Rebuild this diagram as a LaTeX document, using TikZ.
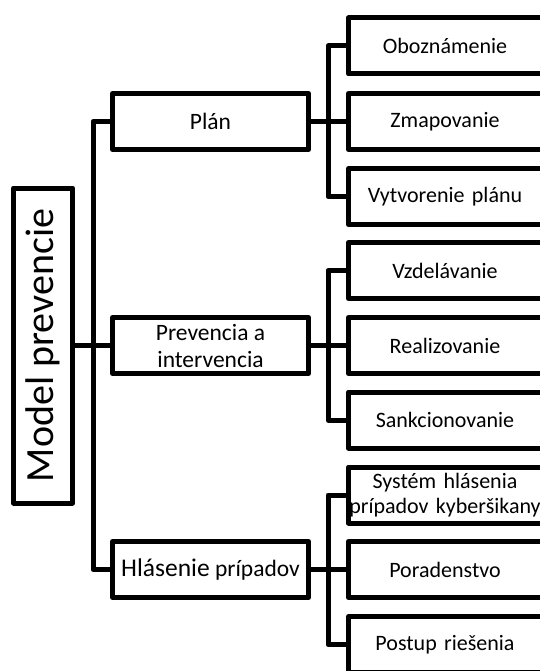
\documentclass[tikz,border=0pt]{standalone}
\usepackage{fontspec}
\setmainfont{Carlito}
\usetikzlibrary{positioning}

\tikzset{
  rootbox/.style={draw, rotate=90, minimum width=315pt, minimum height=59pt,
    inner sep=2pt, font=\fontsize{40}{44}\selectfont},
  midbox/.style={draw, align=center, minimum width=196pt, minimum height=56pt,
    inner sep=1pt, font=\fontsize{23.5}{27}\selectfont},
  leafbox/.style={align=center, text width=193pt, inner xsep=0pt, inner ysep=2pt,
    minimum height=56pt, outer sep=0pt, font=\fontsize{22}{25}\selectfont}
}

\begin{document}
\begin{tikzpicture}[x=1pt, y=-1pt, line width=5pt, line join=round]
  \useasboundingbox (0,0) rectangle (540,671);
  \clip (0,0) rectangle (540,671);
  \node[rootbox] (model) at (43,345.5) {Model prevencie};
  % middle level
  \node[midbox] (plan) at (210.5,121.5) {Plán};
  \node[midbox] (prev) at (210.5,345.5) {Prevencia a\\intervencia};
  \node[midbox] (hlas) at (210.5,569.5) {{\fontsize{25.5}{27}\selectfont Hlásenie} prípadov};
  % leaves, boxes run past the right edge
  \foreach \name/\yy/\txt in {obozn/46/Oboznámenie, zmap/121.5/Zmapovanie,
      vytv/196.5/Vytvorenie plánu, vzdel/270.5/Vzdelávanie, real/345.5/Realizovanie,
      sankc/420/Sankcionovanie, system/495/{Systém hlásenia\\prípadov kyberšikany},
      porad/569.5/Poradenstvo, postup/644.5/Postup riešenia}
    \node[leafbox] (\name) at (445,\yy) {\txt};
  \foreach \name in {obozn,zmap,vytv,vzdel,real,sankc,system,porad,postup}
    \draw (\name.north west) rectangle ([xshift=40pt]\name.south east);
  % connectors
  \draw (model.south) -- (prev.west);
  \draw (plan.west) -- +(-17,0) |- (hlas.west);
  \draw (plan.east) -- (zmap.west);
  \draw (prev.east) -- (real.west);
  \draw (hlas.east) -- (porad.west);
  \draw (obozn.west) -- +(-20.5,0) |- (vytv.west);
  \draw (vzdel.west) -- +(-20.5,0) |- (sankc.west);
  \draw (system.west) -- +(-20.5,0) |- (postup.west);
\end{tikzpicture}
\end{document}
